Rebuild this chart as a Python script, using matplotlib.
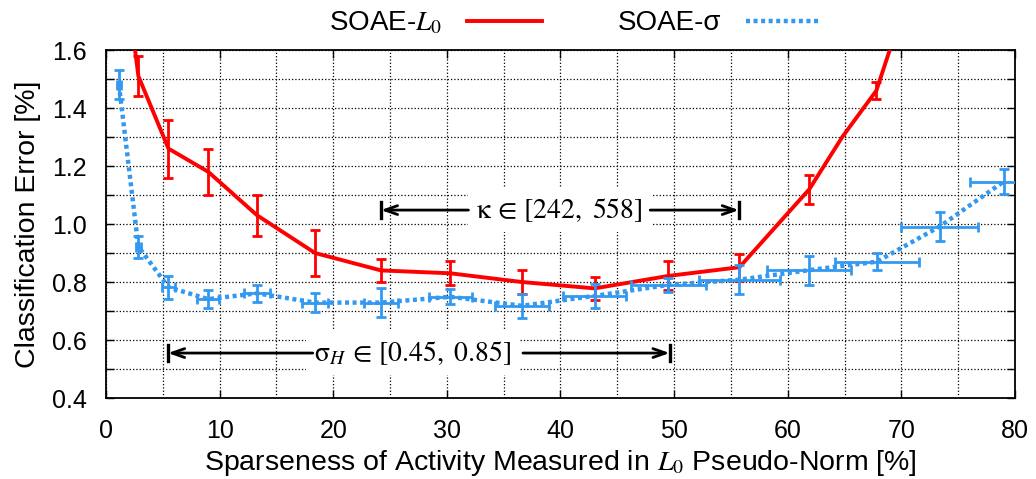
import numpy as np
import matplotlib
matplotlib.use('Agg')
import matplotlib.pyplot as plt
from matplotlib.lines import Line2D
from matplotlib.ticker import MultipleLocator

plt.rcParams['font.family'] = ['Liberation Sans', 'DejaVu Sans']
plt.rcParams['mathtext.fontset'] = 'stix'

# ── data ──────────────────────────────────────────────────────
# SOAE-L0 (line points; error bars only where drawn)
red_x   = [1.14, 2.85, 5.5, 9.0, 13.3, 18.4, 24.2, 30.3, 36.6, 43.0,
           49.5, 55.75, 61.9, 64.8, 67.8, 73.36]
red_y   = [2.04, 1.51, 1.26, 1.18, 1.03, 0.90, 0.84, 0.83, 0.80, 0.778,
           0.821, 0.851, 1.12, 1.30, 1.46, 2.12]
red_err = [None, 0.07, 0.10, 0.08, 0.07, 0.08, 0.04, 0.042, 0.04, 0.04,
           0.05, 0.046, 0.05, None, 0.03, None]

# SOAE-sigma
blue_x    = [1.14, 2.85, 5.5, 9.0, 13.3, 18.4, 24.2, 30.3, 36.6, 43.0,
             49.5, 55.75, 61.9, 67.84, 73.36, 79.0]
blue_y    = [1.48, 0.922, 0.782, 0.741, 0.761, 0.729, 0.729, 0.749, 0.718,
             0.752, 0.79, 0.808, 0.841, 0.87, 0.991, 1.146]
blue_yerr = [0.05, 0.038, 0.04, 0.03, 0.03, 0.032, 0.05, 0.026, 0.042,
             0.04, 0.023, 0.05, 0.05, 0.03, 0.05, 0.042]
blue_xerr = [0.15, 0.25, 0.55, 0.95, 1.17, 1.17, 1.47, 1.9, 2.4, 2.8,
             3.3, 3.55, 3.7, 3.7, 3.4, 3.0]

RED  = '#ff0000'
BLUE = '#3399f0'

fig = plt.figure(figsize=(10.36, 4.79), dpi=100)
ax = fig.add_axes([0.1023, 0.1691, 0.8774, 0.7265])

# ── curves ────────────────────────────────────────────────────
ax.plot(red_x, red_y, color=RED, lw=2.8, zorder=4)
ex = [x for x, e in zip(red_x, red_err) if e is not None]
ey = [y for y, e in zip(red_y, red_err) if e is not None]
ee = [e for e in red_err if e is not None]
ax.errorbar(ex, ey, yerr=ee, fmt='none', ecolor=RED, elinewidth=2.0,
            capsize=3.8, capthick=2.0, zorder=4)

ax.plot(blue_x, blue_y, color=BLUE, lw=3.2, ls=(0, (0.9, 0.8)), zorder=5)
ax.errorbar(blue_x, blue_y, xerr=blue_xerr, yerr=blue_yerr, fmt='none',
            ecolor=BLUE, elinewidth=2.0, capsize=3.8, capthick=2.0, zorder=5)

# ── axes ──────────────────────────────────────────────────────
ax.set_xlim(0, 80)
ax.set_ylim(0.4, 1.6)
ax.xaxis.set_major_locator(MultipleLocator(10))
ax.xaxis.set_minor_locator(MultipleLocator(5))
ax.yaxis.set_major_locator(MultipleLocator(0.2))
ax.yaxis.set_minor_locator(MultipleLocator(0.1))
ax.yaxis.set_major_formatter(plt.FuncFormatter(lambda v, p: f'{v:.1f}'))
ax.tick_params(which='both', direction='in', top=True, right=True,
               labelsize=18, width=1.0, color='black')
ax.tick_params(axis='x', which='major', length=6, pad=15)
ax.tick_params(axis='x', which='minor', length=0)
ax.tick_params(axis='y', which='both', length=6, pad=14)
ax.grid(True, which='both', color='black', ls=':', lw=0.9, zorder=0)
ax.set_axisbelow(True)
for s in ax.spines.values():
    s.set_linewidth(1.3)

ax.set_xlabel('Sparseness of Activity Measured in $L_0$ Pseudo-Norm [%]',
              fontsize=20.5, labelpad=4)
ax.set_ylabel('Classification Error [%]', fontsize=20.5, labelpad=8)

# ── range annotations ─────────────────────────────────────────
def range_arrow(x_end, x_start, y):
    ax.annotate('', xy=(x_end, y), xytext=(x_start, y),
                arrowprops=dict(arrowstyle='->,head_length=0.9,head_width=0.32',
                                lw=2.0, color='black', shrinkA=0, shrinkB=0),
                zorder=7)
    ax.plot([x_end, x_end], [y - 0.028, y + 0.028], color='black', lw=2.4,
            zorder=7)

box = dict(boxstyle='square,pad=0.3', fc='white', ec='none')
ax.text(39.9, 1.048, r'$\mathrm{\kappa}\,\in\,[242,\ 558]$', fontsize=20,
        ha='center', va='center', bbox=box, zorder=6)
range_arrow(24.2, 31.9, 1.048)
range_arrow(55.7, 47.9, 1.048)

ax.text(27.0, 0.555, r'$\mathrm{\sigma}_H\,\in\,[0.45,\ 0.85]$', fontsize=20,
        ha='center', va='center', bbox=box, zorder=6)
range_arrow(5.46, 18.2, 0.555)
range_arrow(49.6, 36.7, 0.555)

# ── legend above plot ─────────────────────────────────────────
handles = [Line2D([], [], color=RED, lw=2.8),
           Line2D([], [], color=BLUE, lw=3.2, ls=(0, (0.9, 0.8)))]
fig.legend(handles, ['SOAE-$L_0$', 'SOAE-σ'], loc='center',
           bbox_to_anchor=(0.555, 0.952), ncol=2, frameon=False,
           markerfirst=False, fontsize=20, handlelength=2.7,
           handletextpad=0.9, columnspacing=2.7)

fig.savefig('out.png', dpi=100)
